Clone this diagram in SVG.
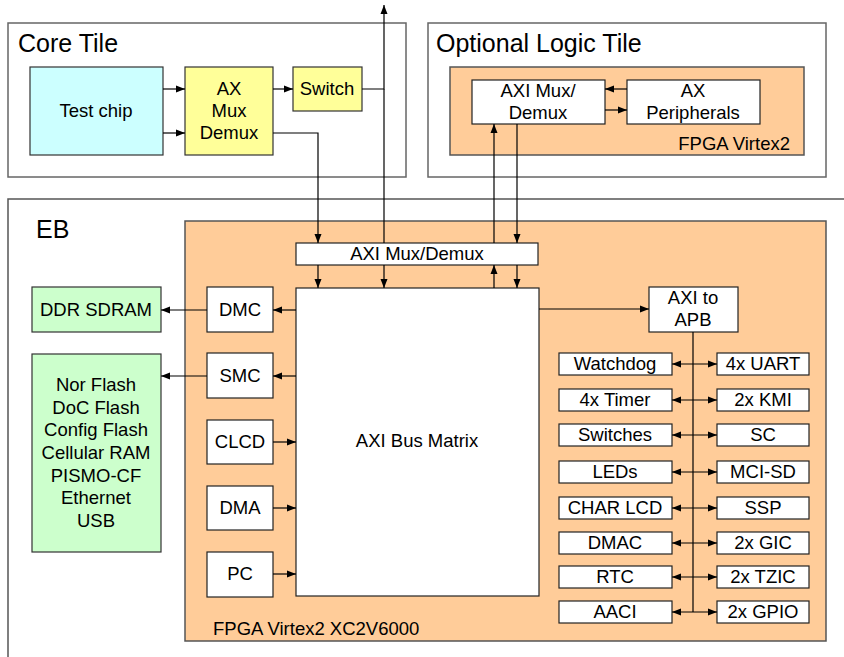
<svg xmlns="http://www.w3.org/2000/svg" width="844" height="657" viewBox="0 0 844 657">
  <defs>
    <marker id="arr" markerUnits="userSpaceOnUse" markerWidth="10" markerHeight="8" refX="9" refY="4" orient="auto-start-reverse">
      <path d="M0,0.5 L9,4 L0,7.5 z" fill="#000"/>
    </marker>
    <style>
      text { font-family: "Liberation Sans", Arial, sans-serif; font-size: 18.5px; fill: #000; }
      .title { font-size: 25px; }
      .mid { text-anchor: middle; }
      .tile { fill: #fff; stroke: #666; stroke-width: 1.5; }
      .fpga { fill: #ffcc99; stroke: #555; stroke-width: 1.5; }
      .box { fill: #fff; stroke: #222; stroke-width: 1.2; }
      .chip { fill: #ccffff; stroke: #333; stroke-width: 1.2; }
      .yel { fill: #ffff99; stroke: #333; stroke-width: 1.2; }
      .mem { fill: #ccffcc; stroke: #333; stroke-width: 1.2; }
      .wire { fill: none; stroke: #000; stroke-width: 1.2; }
      .a { marker-end: url(#arr); }
      .aa { marker-start: url(#arr); marker-end: url(#arr); }
    </style>
  </defs>

  <rect width="844" height="657" fill="#fff"/>

  <!-- Core Tile -->
  <g id="core-tile">
    <rect class="tile" x="8" y="23" width="398" height="154"/>
    <text class="title" x="18" y="52">Core Tile</text>
  </g>
  <g id="test-chip">
    <rect class="chip" x="30" y="67" width="133" height="88"/>
    <text class="mid" x="96" y="117">Test chip</text>
  </g>
  <g id="core-mux">
    <rect class="yel" x="185" y="67" width="88" height="88"/>
    <text class="mid" x="229" y="95">AX</text>
    <text class="mid" x="229" y="117">Mux</text>
    <text class="mid" x="229" y="139">Demux</text>
  </g>
  <g id="switch">
    <rect class="yel" x="293" y="67" width="69" height="44"/>
    <text class="mid" x="327" y="95">Switch</text>
  </g>

  <!-- Optional Logic Tile -->
  <g id="logic-tile">
    <rect class="tile" x="428" y="23" width="398" height="154"/>
    <text class="title" x="436" y="52">Optional Logic Tile</text>
  </g>
  <g id="logic-fpga">
    <rect class="fpga" x="450" y="67" width="354" height="88"/>
    <text x="790" y="150" text-anchor="end">FPGA Virtex2</text>
  </g>
  <g id="logic-mux">
    <rect class="box" x="472" y="80" width="133" height="44"/>
    <text class="mid" x="538" y="97">AXI Mux/</text>
    <text class="mid" x="538" y="119">Demux</text>
  </g>
  <g id="axi-peripherals">
    <rect class="box" x="627" y="80" width="133" height="44"/>
    <text class="mid" x="693" y="97">AX</text>
    <text class="mid" x="693" y="119">Peripherals</text>
  </g>

  <!-- EB baseboard -->
  <g id="eb">
    <path d="M8,657 V199 H844" fill="none" stroke="#555" stroke-width="1.5"/>
    <text class="title" x="36" y="238">EB</text>
  </g>
  <g id="eb-fpga">
    <rect class="fpga" x="185" y="221" width="641" height="420"/>
    <text x="213" y="635">FPGA Virtex2 XC2V6000</text>
  </g>
  <g id="eb-mux">
    <rect class="box" x="296" y="243" width="242" height="22"/>
    <text class="mid" x="417" y="260">AXI Mux/Demux</text>
  </g>
  <g id="bus-matrix">
    <rect class="box" x="296" y="288" width="243" height="308"/>
    <text class="mid" x="417" y="447">AXI Bus Matrix</text>
  </g>

  <!-- Memory / controller column -->
  <g id="ddr">
    <rect class="mem" x="32" y="287" width="129" height="45"/>
    <text class="mid" x="96" y="316">DDR SDRAM</text>
  </g>
  <g id="static-mem">
    <rect class="mem" x="32" y="354" width="129" height="198"/>
    <text class="mid" x="96" y="391">Nor Flash</text>
    <text class="mid" x="96" y="414">DoC Flash</text>
    <text class="mid" x="96" y="436">Config Flash</text>
    <text class="mid" x="96" y="459">Cellular RAM</text>
    <text class="mid" x="96" y="482">PISMO-CF</text>
    <text class="mid" x="96" y="504">Ethernet</text>
    <text class="mid" x="96" y="527">USB</text>
  </g>
  <g id="dmc">
    <rect class="box" x="207" y="287" width="66" height="45"/>
    <text class="mid" x="240" y="316">DMC</text>
  </g>
  <g id="smc">
    <rect class="box" x="207" y="353" width="66" height="45"/>
    <text class="mid" x="240" y="382">SMC</text>
  </g>
  <g id="clcd">
    <rect class="box" x="207" y="420" width="66" height="44"/>
    <text class="mid" x="240" y="448">CLCD</text>
  </g>
  <g id="dma">
    <rect class="box" x="207" y="486" width="66" height="44"/>
    <text class="mid" x="240" y="514">DMA</text>
  </g>
  <g id="pc">
    <rect class="box" x="207" y="552" width="66" height="45"/>
    <text class="mid" x="240" y="580">PC</text>
  </g>

  <!-- APB bridge and peripherals -->
  <g id="axi-apb">
    <rect class="box" x="649" y="287" width="89" height="45"/>
    <text class="mid" x="693" y="304">AXI to</text>
    <text class="mid" x="693" y="326">APB</text>
  </g>
  <g id="watchdog"><rect class="box" x="559" y="353" width="113" height="22"/><text class="mid" x="615" y="370">Watchdog</text></g>
  <g id="timer"><rect class="box" x="559" y="389" width="113" height="22"/><text class="mid" x="615" y="406">4x Timer</text></g>
  <g id="switches"><rect class="box" x="559" y="424" width="113" height="22"/><text class="mid" x="615" y="441">Switches</text></g>
  <g id="leds"><rect class="box" x="559" y="461" width="113" height="22"/><text class="mid" x="615" y="478">LEDs</text></g>
  <g id="char-lcd"><rect class="box" x="559" y="497" width="113" height="22"/><text class="mid" x="615" y="514">CHAR LCD</text></g>
  <g id="dmac"><rect class="box" x="559" y="532" width="113" height="22"/><text class="mid" x="615" y="549">DMAC</text></g>
  <g id="rtc"><rect class="box" x="559" y="566" width="113" height="22"/><text class="mid" x="615" y="583">RTC</text></g>
  <g id="aaci"><rect class="box" x="559" y="601" width="113" height="22"/><text class="mid" x="615" y="618">AACI</text></g>
  <g id="uart"><rect class="box" x="717" y="353" width="92" height="22"/><text class="mid" x="763" y="370">4x UART</text></g>
  <g id="kmi"><rect class="box" x="717" y="389" width="92" height="22"/><text class="mid" x="763" y="406">2x KMI</text></g>
  <g id="sc"><rect class="box" x="717" y="424" width="92" height="22"/><text class="mid" x="763" y="441">SC</text></g>
  <g id="mci-sd"><rect class="box" x="717" y="461" width="92" height="22"/><text class="mid" x="763" y="478">MCI-SD</text></g>
  <g id="ssp"><rect class="box" x="717" y="497" width="92" height="22"/><text class="mid" x="763" y="514">SSP</text></g>
  <g id="gic"><rect class="box" x="717" y="532" width="92" height="22"/><text class="mid" x="763" y="549">2x GIC</text></g>
  <g id="tzic"><rect class="box" x="717" y="566" width="92" height="22"/><text class="mid" x="763" y="583">2x TZIC</text></g>
  <g id="gpio"><rect class="box" x="717" y="601" width="92" height="22"/><text class="mid" x="763" y="618">2x GPIO</text></g>

  <!-- Connectors -->
  <g id="connectors">
    <!-- core tile -->
    <path class="wire a" d="M163,89 H185"/>
    <path class="wire a" d="M163,133 H185"/>
    <path class="wire a" d="M273,89 H293"/>
    <path class="wire a" d="M362,89 H384 V5"/>
    <path class="wire" d="M384,243 V89"/>
    <path class="wire a" d="M273,133 H318 V243"/>
    <!-- logic tile -->
    <path class="wire a" d="M627,89 H605"/>
    <path class="wire a" d="M605,110 H627"/>
    <path class="wire a" d="M494,243 V124"/>
    <path class="wire a" d="M517,124 V243"/>
    <!-- EB mux to bus matrix -->
    <path class="wire a" d="M318,265 V288"/>
    <path class="wire a" d="M384,265 V288"/>
    <path class="wire a" d="M494,288 V265"/>
    <path class="wire a" d="M517,265 V288"/>
    <!-- controllers -->
    <path class="wire a" d="M296,310 H273"/>
    <path class="wire a" d="M296,376 H273"/>
    <path class="wire a" d="M273,442 H296"/>
    <path class="wire a" d="M273,508 H296"/>
    <path class="wire a" d="M273,574 H296"/>
    <path class="wire a" d="M207,310 H161"/>
    <path class="wire a" d="M207,376 H161"/>
    <!-- APB -->
    <path class="wire a" d="M539,309 H649"/>
    <path class="wire" d="M693,332 V612"/>
    <path class="wire aa" d="M672,364 H717"/>
    <path class="wire aa" d="M672,400 H717"/>
    <path class="wire aa" d="M672,435 H717"/>
    <path class="wire aa" d="M672,472 H717"/>
    <path class="wire aa" d="M672,508 H717"/>
    <path class="wire aa" d="M672,543 H717"/>
    <path class="wire aa" d="M672,577 H717"/>
    <path class="wire aa" d="M672,612 H717"/>
  </g>
</svg>
